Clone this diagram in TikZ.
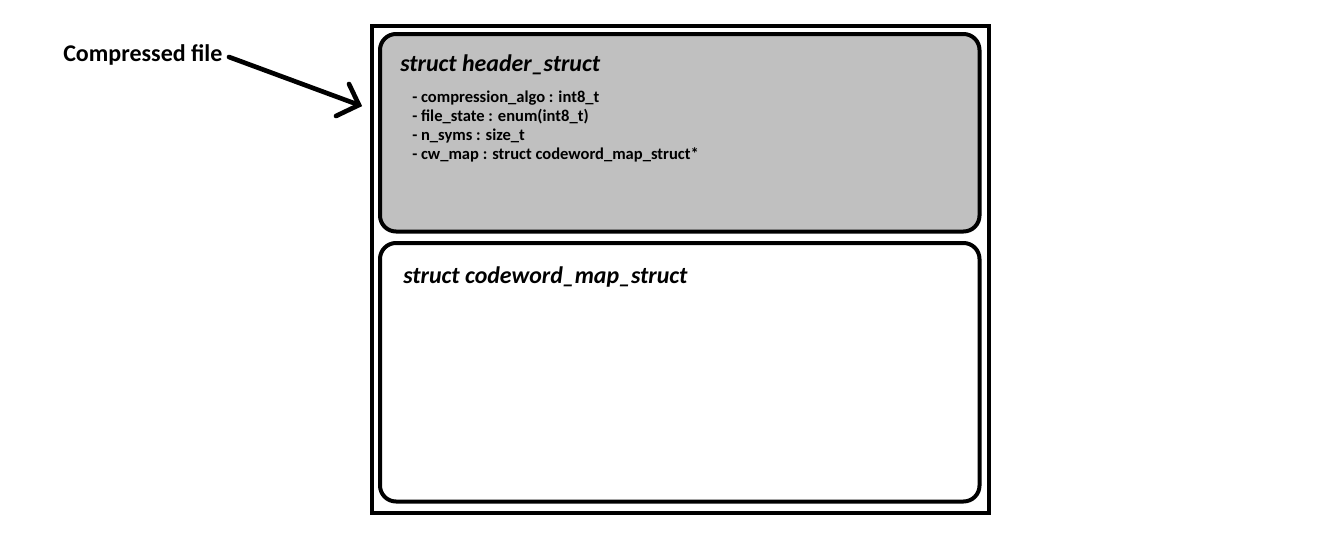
\documentclass[tikz,border=0pt]{standalone}
\usepackage{fontspec}
\setmainfont{Carlito}
\begin{document}
\begin{tikzpicture}[x=0.75pt,y=-0.75pt,
  frame/.style={draw=black,line width=3pt},
  boxr/.style={draw=black,line width=3pt,rounded corners=12pt},
  title/.style={anchor=west,inner sep=0pt,font=\fontsize{17.9}{20}\selectfont\bfseries\itshape},
  item/.style={anchor=west,inner sep=0pt,font=\fontsize{12.4}{14}\selectfont\bfseries},
  lbl/.style={anchor=west,inner sep=0pt,font=\fontsize{18}{20}\selectfont\bfseries}]
\useasboundingbox (0,0) rectangle (1334,553);
\draw[frame] (371.5,25.5) rectangle (988.5,512.5);
\draw[boxr,fill={rgb,255:red,192;green,192;blue,192}] (380,34) rectangle (979.5,231.5);
\draw[boxr] (380,243) rectangle (979.5,501.5);
\node[title] (t1) at (400,65) {struct header\_struct};
\node[item] (i1) at (412,98) {- compression\_algo : int8\_t};
\node[item] (i2) at (412,117) {- file\_state : enum(int8\_t)};
\node[item] (i3) at (412,136) {- n\_syms : size\_t};
\node[item] (i4) at (412,155) {- cw\_map : struct codeword\_map\_struct*};
\node[title] (t2) at (403,277) {struct codeword\_map\_struct};
\node[lbl] (cf) at (63,55) {Compressed file};
\coordinate (tip) at (359,105);
\coordinate (start) at (229,57);
\draw[line width=3.5pt,line cap=round] (start) -- (tip);
\draw[line width=3.5pt,line cap=round,line join=miter] (349,84) -- (tip) -- (336,116);
\end{tikzpicture}
\end{document}
